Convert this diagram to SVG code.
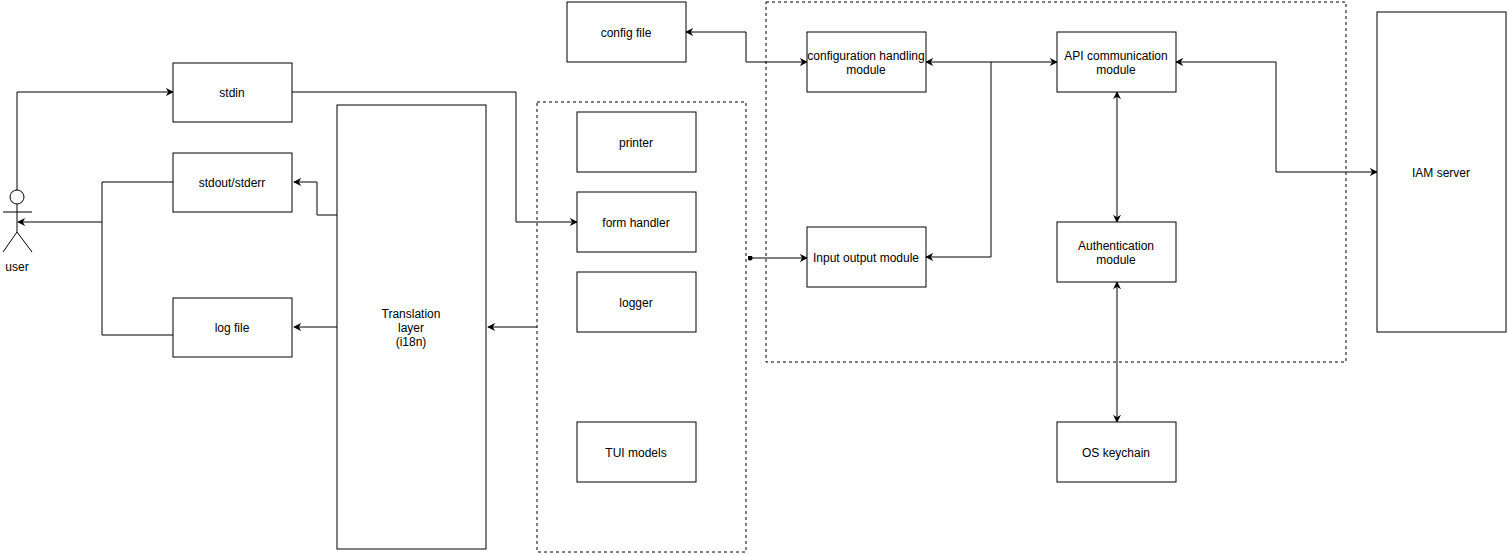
<svg xmlns="http://www.w3.org/2000/svg" width="1509" height="555" viewBox="0 0 1509 555">
<style>
.b{fill:#fff;stroke:#000;stroke-width:1}
.d{fill:none;stroke:#000;stroke-width:1;stroke-dasharray:3 3}
.t{font-family:"Liberation Sans",Arial,sans-serif;font-size:12px;fill:#000;text-anchor:middle;dominant-baseline:central}
.c{fill:none;stroke:#000;stroke-width:1}
</style>
<defs>
<marker id="a" viewBox="0 0 10 10" refX="9" refY="5" markerWidth="8" markerHeight="8" orient="auto-start-reverse" markerUnits="userSpaceOnUse"><path d="M0,0 L10,5 L0,10 L3,5 Z" fill="#000"/></marker>
<marker id="o" viewBox="0 0 6 6" refX="3" refY="3" markerWidth="5" markerHeight="5" markerUnits="userSpaceOnUse"><circle cx="3" cy="3" r="3" fill="#000"/></marker>
</defs>
<rect x="537" y="102" width="209" height="450" class="d"/>
<rect x="766" y="2" width="580" height="360" class="d"/>
<g id="connectors">
<path class="c" d="M17,190 V92 H173" marker-end="url(#a)"/>
<path class="c" d="M292,92 H516 V222 H577" marker-end="url(#a)"/>
<path class="c" d="M173,182 H102 V222 H18" marker-end="url(#a)"/>
<path class="c" d="M173,335 H102 V222"/>
<path class="c" d="M337,215 H317 V182 H294" marker-end="url(#a)"/>
<path class="c" d="M337,327 H294" marker-end="url(#a)"/>
<path class="c" d="M537,327 H488" marker-end="url(#a)"/>
<path class="c" d="M750,258 H807" marker-start="url(#o)" marker-end="url(#a)"/>
<path class="c" d="M686,32 H746 V62 H807" marker-start="url(#a)" marker-end="url(#a)"/>
<path class="c" d="M926,62 H1057" marker-start="url(#a)" marker-end="url(#a)"/>
<path class="c" d="M991,62 V257 H926" marker-end="url(#a)"/>
<path class="c" d="M1117,92 V222" marker-start="url(#a)" marker-end="url(#a)"/>
<path class="c" d="M1117,282 V422" marker-start="url(#a)" marker-end="url(#a)"/>
<path class="c" d="M1176,62 H1276 V172 H1377" marker-start="url(#a)" marker-end="url(#a)"/>
</g>
<g id="user">
<circle cx="17" cy="197" r="7" class="b"/>
<path class="c" d="M3,212 H32 M17,204 V232 L3,252 M17,232 L32,252"/>
<text x="17" y="267" class="t">user</text>
</g>
<g id="stdin"><rect x="173" y="63" width="119" height="59" class="b"/><text x="232" y="93" class="t">stdin</text></g>
<g id="stdout"><rect x="173" y="153" width="119" height="59" class="b"/><text x="232" y="183" class="t">stdout/stderr</text></g>
<g id="logfile"><rect x="173" y="298" width="119" height="59" class="b"/><text x="232" y="328" class="t">log file</text></g>
<g id="translation"><rect x="337" y="105" width="149" height="444" class="b"/><text x="411" y="314" class="t">Translation</text><text x="411" y="328" class="t">layer</text><text x="411" y="342" class="t">(i18n)</text></g>
<g id="printer"><rect x="577" y="112" width="119" height="60" class="b"/><text x="636" y="143" class="t">printer</text></g>
<g id="formhandler"><rect x="577" y="192" width="119" height="60" class="b"/><text x="636" y="223" class="t">form handler</text></g>
<g id="logger"><rect x="577" y="272" width="119" height="60" class="b"/><text x="636" y="303" class="t">logger</text></g>
<g id="tui"><rect x="577" y="422" width="119" height="60" class="b"/><text x="636" y="453" class="t">TUI models</text></g>
<g id="configfile"><rect x="567" y="2" width="119" height="60" class="b"/><text x="626" y="33" class="t">config file</text></g>
<g id="configmodule"><rect x="807" y="32" width="119" height="60" class="b"/><text x="866" y="56" class="t">configuration handling</text><text x="866" y="70" class="t">module</text></g>
<g id="iomodule"><rect x="807" y="227" width="119" height="60" class="b"/><text x="866" y="258" class="t">Input output module</text></g>
<g id="api"><rect x="1057" y="32" width="119" height="60" class="b"/><text x="1116" y="56" class="t">API communication</text><text x="1116" y="70" class="t">module</text></g>
<g id="auth"><rect x="1057" y="222" width="119" height="60" class="b"/><text x="1116" y="246" class="t">Authentication</text><text x="1116" y="260" class="t">module</text></g>
<g id="keychain"><rect x="1057" y="422" width="119" height="60" class="b"/><text x="1116" y="453" class="t">OS keychain</text></g>
<g id="iam"><rect x="1377" y="12" width="129" height="320" class="b"/><text x="1441" y="173" class="t">IAM server</text></g>
</svg>
